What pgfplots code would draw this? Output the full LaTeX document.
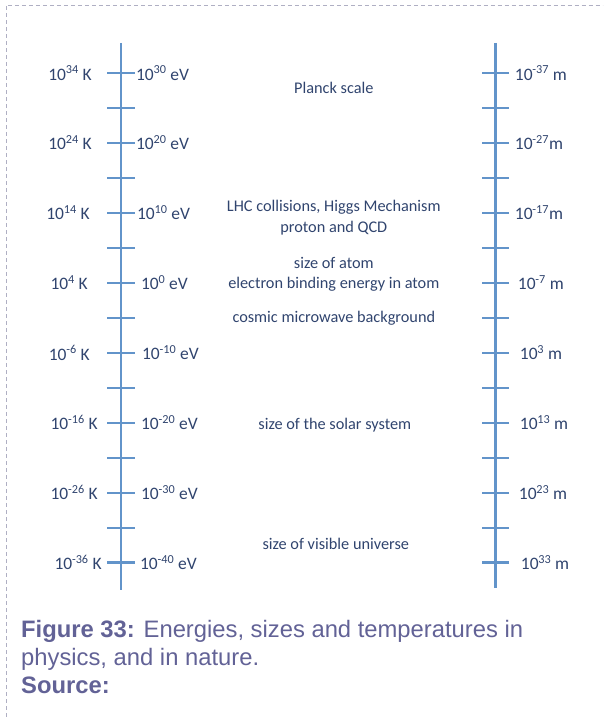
\documentclass[border=0pt]{standalone}
\usepackage{pgfplots}
\pgfplotsset{compat=1.18}
\usepackage{fontspec}
\setmainfont{Carlito}
\newfontfamily\capfont{Liberation Sans}
\definecolor{axblue}{RGB}{98,148,202}
\definecolor{lbl}{RGB}{48,68,110}
\definecolor{cap}{RGB}{98,98,150}
\definecolor{brd}{RGB}{175,175,195}
\newcommand{\p}[1]{10\kern-0.3pt\textsuperscript{#1}}
\begin{document}
\begin{tikzpicture}
\begin{axis}[width=603pt,height=717pt,scale only axis,
  xmin=0,xmax=603,ymin=0,ymax=717,y dir=reverse,hide axis,clip=false]
\path (axis cs:0,0) rectangle (axis cs:603,717);
% dashed frame
\draw[brd,line width=0.8pt,dash pattern=on 4pt off 3pt] (axis cs:6,717) -- (axis cs:6,5) -- (axis cs:603,5);
% axes lines
\addplot[axblue,line width=2.6pt] coordinates {(121,43) (121,590)};
\addplot[axblue,line width=2.6pt] coordinates {(496,43) (496,588)};
% ticks
\addplot[axblue,only marks,mark=-,mark size=14pt,mark options={line width=2.4pt}] coordinates {
(121,73)(121,108)(121,143)(121,178)(121,213)(121,248)(121,283)(121,318)(121,353)(121,388)(121,423)(121,458)(121,493)(121,528)(121,563)};
\addplot[axblue,only marks,mark=-,mark size=13.5pt,mark options={line width=2.4pt}] coordinates {
(496,73)(496,108)(496,143)(496,178)(496,213)(496,248)(496,283)(496,318)(496,353)(496,388)(496,423)(496,458)(496,493)(496,528)(496,563)};
% labels
\begin{scope}[every node/.style={text=lbl,font=\fontsize{17.5}{20}\selectfont,inner sep=0pt}]
\node[anchor=east] at (axis cs:92,73) {\p{34} K};
\node[anchor=east] at (axis cs:92,143) {\p{24} K};
\node[anchor=east] at (axis cs:90,213) {\p{14} K};
\node[anchor=east] at (axis cs:88,283) {\p{4} K};
\node[anchor=east] at (axis cs:90,353) {\p{-6} K};
\node[anchor=east] at (axis cs:98,423) {\p{-16} K};
\node[anchor=east] at (axis cs:98,493) {\p{-26} K};
\node[anchor=east] at (axis cs:102,563) {\p{-36} K};
\node[anchor=west] at (axis cs:136,73) {\p{30} eV};
\node[anchor=west] at (axis cs:136,143) {\p{20} eV};
\node[anchor=west] at (axis cs:137,213) {\p{10} eV};
\node[anchor=west] at (axis cs:141,283) {\p{0} eV};
\node[anchor=west] at (axis cs:142,353) {\p{-10} eV};
\node[anchor=west] at (axis cs:141,423) {\p{-20} eV};
\node[anchor=west] at (axis cs:141,493) {\p{-30} eV};
\node[anchor=west] at (axis cs:140,563) {\p{-40} eV};
\node[anchor=west] at (axis cs:515,73) {\p{-37} m};
\node[anchor=west] at (axis cs:515,143) {\p{-27}m};
\node[anchor=west] at (axis cs:515,213) {\p{-17}m};
\node[anchor=west] at (axis cs:518,283) {\p{-7} m};
\node[anchor=west] at (axis cs:520,353) {\p{3} m};
\node[anchor=west] at (axis cs:520,423) {\p{13} m};
\node[anchor=west] at (axis cs:519,493) {\p{23} m};
\node[anchor=west] at (axis cs:521,563) {\p{33} m};
\end{scope}
\begin{scope}[every node/.style={text=lbl,font=\fontsize{16.3}{19}\selectfont,inner sep=0pt}]
\node at (axis cs:334,88) {Planck scale};
\node at (axis cs:334,207) {LHC collisions, Higgs Mechanism};
\node at (axis cs:334,228) {proton and QCD};
\node at (axis cs:334,263) {size of atom};
\node at (axis cs:334,284) {electron binding energy in atom};
\node at (axis cs:334,318) {cosmic microwave background};
\node at (axis cs:335,425) {size of the solar system};
\node at (axis cs:336,544) {size of visible universe};
\end{scope}
% caption
\node[anchor=north west,inner sep=0pt,text=cap,align=left,font=\capfont\fontsize{23.8}{28}\selectfont] at (axis cs:21,620)
{\textbf{Figure 33:} Energies, sizes and temperatures in\\ physics, and in nature.\\ \textbf{Source:}};
\end{axis}
\end{tikzpicture}
\end{document}
